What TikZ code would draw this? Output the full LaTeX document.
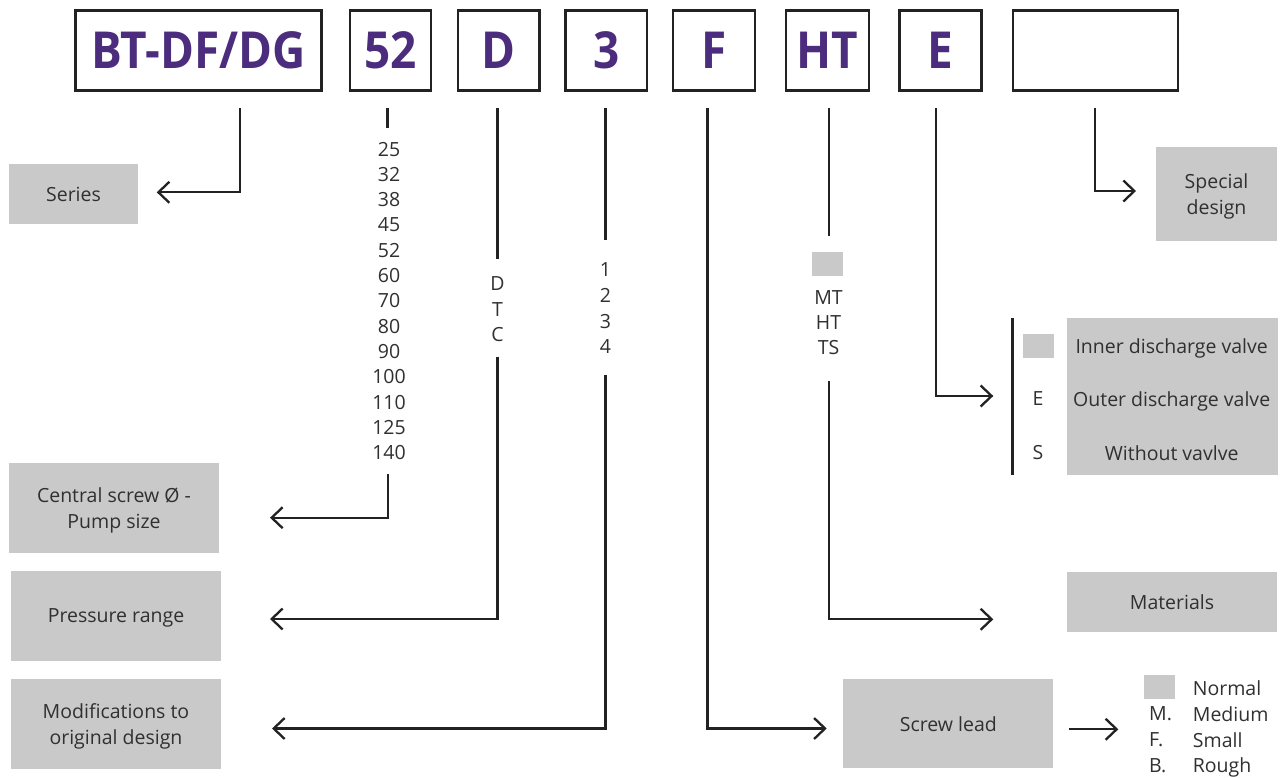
\documentclass[tikz,border=0pt]{standalone}
\usepackage{fontspec}
\setmainfont{Open Sans}
\newfontfamily\bigfont[FakeStretch=0.9]{Open Sans}
\usetikzlibrary{arrows.meta}
\definecolor{txt}{HTML}{303030}
\definecolor{greyfill}{HTML}{C9C9C9}
\definecolor{purp}{HTML}{4B2C7D}
\definecolor{ln}{HTML}{222222}
\begin{document}
\begin{tikzpicture}[x=1pt,y=-1pt,
  codebox/.style={draw=ln, line width=2.3pt, minimum height=80pt, inner sep=0pt, text=purp,
    text depth=0pt, font=\bigfont\bfseries\fontsize{51}{51}\selectfont},
  greybox/.style={fill=greyfill, inner sep=0pt, text=txt, align=center, text depth=0pt,
    font=\fontsize{19.5}{25.5}\selectfont},
  swatch/.style={fill=greyfill, inner sep=0pt},
  lab/.style={text=txt, inner sep=0pt, align=center, text depth=0pt, font=\fontsize{19.5}{25.5}\selectfont},
  conn/.style={draw=ln, line width=2.3pt},
  arr/.style={conn, -{Straight Barb[length=11pt,width=21pt,line width=2.3pt]}},
]
\useasboundingbox (0,0) rectangle (1284,778);
\fill[white] (0,0) rectangle (1284,778);

% code boxes
\node[codebox, minimum width=246pt] (bt) at (198.5,50.5) {BT-DF/DG};
\node[codebox, minimum width=81pt] (sz) at (390.5,50.5) {52};
\node[codebox, minimum width=81.5pt] (pr) at (498.8,50.5) {D};
\node[codebox, minimum width=81.5pt] (md) at (606.3,50.5) {3};
\node[codebox, minimum width=82pt] (ld) at (714.3,50.5) {F};
\node[codebox, minimum width=82.5pt] (mt) at (827.5,50.5) {HT};
\node[codebox, minimum width=82pt] (vl) at (940.5,50.5) {E};
\node[codebox, minimum width=165pt] (sp) at (1095.5,50.5) {};

% grey description boxes
\node[greybox, minimum width=129pt, minimum height=60pt] (series) at (73.5,194) {Series};
\node[greybox, minimum width=210pt, minimum height=89.5pt] (central) at (114,508) {Central screw Ø -\\Pump size};
\node[greybox, minimum width=210pt, minimum height=90pt] (pressure) at (116,616) {Pressure range};
\node[greybox, minimum width=210pt, minimum height=90pt] (modif) at (116,724) {Modifications to\\original design};
\node[greybox, minimum width=210pt, minimum height=89.3pt] (screw) at (948.3,723.7) {Screw lead};
\node[greybox, minimum width=210pt, minimum height=60pt] (materials) at (1172,602) {Materials};
\node[greybox, minimum width=121pt, minimum height=93.4pt] (special) at (1216.5,194) {Special\\design};
\node[greybox, minimum width=211pt, minimum height=156.7pt] (valvebox) at (1172.2,396.7) {};

% option lists
\node[lab, font=\fontsize{19.5}{25.3}\selectfont] (sizes) at (389,300.8) {25\\32\\38\\45\\52\\60\\70\\80\\90\\100\\110\\125\\140};
\node[lab, font=\fontsize{19.5}{25.8}\selectfont] (dtc) at (497.5,309.2) {D\\T\\C};
\node[lab, font=\fontsize{19.5}{25.6}\selectfont] (nums) at (605.5,308.3) {1\\2\\3\\4};
\node[swatch, minimum width=31pt, minimum height=24pt] (mtsw) at (827.5,263.7) {};
\node[lab, font=\fontsize{19.5}{25.3}\selectfont] (mats) at (828.5,322.7) {MT\\HT\\TS};

% valve legend
\node[swatch, minimum width=31.3pt, minimum height=23.7pt] (vsw) at (1038.4,345.9) {};
\node[lab] (ve) at (1038,399) {E};
\node[lab] (vs) at (1038,452.7) {S};
\node[lab] (vinner) at (1171.7,345.7) {Inner discharge valve};
\node[lab] (vouter) at (1171.7,399) {Outer discharge valve};
\node[lab] (vwithout) at (1171.7,452.7) {Without vavlve};
\coordinate (vbarT) at (1012.5,318.3);
\coordinate (vbarB) at (1012.5,475);
\draw[conn] (vbarT) -- (vbarB);

% screw lead legend
\node[swatch, minimum width=31pt, minimum height=24pt] (lsw) at (1159.5,687) {};
\node[lab, anchor=west] (lm) at (1149,714) {M.};
\node[lab, anchor=west] (lf) at (1149,740) {F.};
\node[lab, anchor=west] (lb) at (1149,765.3) {B.};
\node[lab, anchor=west] (lnormal) at (1192.7,688.3) {Normal};
\node[lab, anchor=west] (lmedium) at (1192.7,714) {Medium};
\node[lab, anchor=west] (lsmall) at (1192.7,740) {Small};
\node[lab, anchor=west] (lrough) at (1192.7,765.3) {Rough};

% connector coordinates
\coordinate (c0) at (240,108);      \coordinate (a0) at (156.7,192.3);
\coordinate (c1) at (387.5,108);    \coordinate (c1b) at (387.5,128);
\coordinate (c1c) at (388.3,474);   \coordinate (a1) at (270,517.7);
\coordinate (c2) at (497.5,108);    \coordinate (c2b) at (497.5,259.3);
\coordinate (c2c) at (497.5,356.7); \coordinate (a2) at (270,619);
\coordinate (c3) at (605.5,108);    \coordinate (c3b) at (605.5,240);
\coordinate (c3c) at (605.5,375);   \coordinate (a3) at (272,728.5);
\coordinate (c4) at (707.6,108);    \coordinate (a4) at (826.7,728.5);
\coordinate (c5) at (828.8,108);    \coordinate (c5b) at (828.8,235.7);
\coordinate (c5c) at (828.8,381);   \coordinate (a5) at (993.3,619.3);
\coordinate (c6) at (935.7,108);    \coordinate (a6) at (993.3,396);
\coordinate (c7) at (1095,108);     \coordinate (a7) at (1136,191);
\coordinate (c8) at (1069.3,729.3); \coordinate (a8) at (1118.3,729.3);

\draw[arr] (c0) |- (a0);
\draw[conn] (c1) -- (c1b);
\draw[arr] (c1c) |- (a1);
\draw[conn] (c2) -- (c2b);
\draw[arr] (c2c) |- (a2);
\draw[conn] (c3) -- (c3b);
\draw[arr] (c3c) |- (a3);
\draw[arr] (c4) |- (a4);
\draw[conn] (c5) -- (c5b);
\draw[arr] (c5c) |- (a5);
\draw[arr] (c6) |- (a6);
\draw[arr] (c7) |- (a7);
\draw[arr] (c8) -- (a8);
\end{tikzpicture}
\end{document}
